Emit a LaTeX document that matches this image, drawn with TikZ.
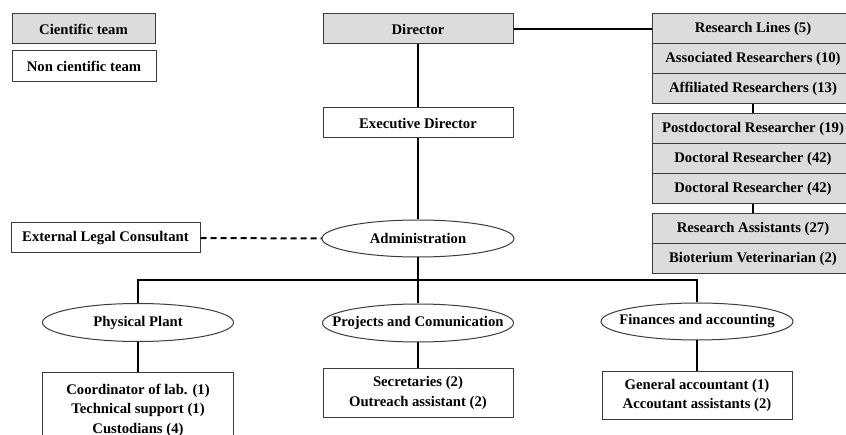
\documentclass[tikz,border=0pt]{standalone}
\usepackage{fontspec}
\setmainfont{Liberation Serif}
\usetikzlibrary{shapes.geometric}
\definecolor{boxgray}{RGB}{220,220,220}
\definecolor{edgegray}{RGB}{60,60,60}
\tikzset{
  every node/.style={font=\fontsize{14.7}{19.5}\selectfont\bfseries},
  sbox/.style={draw=edgegray, line width=1pt, fill=boxgray, rectangle, inner sep=0pt, align=center},
  nbox/.style={draw=edgegray, line width=1pt, fill=white, rectangle, inner sep=0pt, align=center},
  oval/.style={draw=edgegray, line width=1pt, fill=white, ellipse, inner sep=0pt},
  conn/.style={line width=2pt, black},
  dconn/.style={line width=2pt, black, dash pattern=on 6pt off 4pt}
}
\begin{document}
\begin{tikzpicture}[x=1pt,y=-1pt]
\clip (0,0) rectangle (846,435);
\fill[white] (0,0) rectangle (846,435);
% legend
\node[sbox, minimum width=143pt, minimum height=30pt] (leg1) at (83.5,29) {Cientific team};
\node[nbox, minimum width=144pt, minimum height=31pt] (leg2) at (84,66.5) {Non cientific team};
% top
\node[sbox, minimum width=190pt, minimum height=30pt] (dir) at (418,29) {Director};
\node[nbox, minimum width=190pt, minimum height=30pt] (exec) at (418,123) {Executive Director};
% right stack
\node[sbox, minimum width=202pt, minimum height=30pt] (rl) at (753,29) {Research Lines (5)};
\node[sbox, minimum width=202pt, minimum height=30pt] (ar) at (753,59) {Associated Researchers (10)};
\node[sbox, minimum width=202pt, minimum height=30pt] (afr) at (753,89) {Affiliated Researchers (13)};
\node[sbox, minimum width=202pt, minimum height=30pt] (pd) at (753,129) {Postdoctoral Researcher (19)};
\node[sbox, minimum width=202pt, minimum height=30pt] (dr1) at (753,159) {Doctoral Researcher (42)};
\node[sbox, minimum width=202pt, minimum height=30pt] (dr2) at (753,189) {Doctoral Researcher (42)};
\node[sbox, minimum width=202pt, minimum height=30pt] (ra) at (753,229) {Research Assistants (27)};
\node[sbox, minimum width=202pt, minimum height=30pt] (bv) at (753,259) {Bioterium Veterinarian (2)};
% administration
\node[oval, minimum width=192pt, minimum height=37pt] (adm) at (418,238.5) {\makebox[0pt]{Administration}};
\node[nbox, minimum width=189pt, minimum height=30pt] (elc) at (105.5,238) {External Legal Consultant};
% departments
\node[oval, minimum width=191pt, minimum height=38pt] (pp) at (138,322.5) {\makebox[0pt]{Physical Plant}};
\node[oval, minimum width=191pt, minimum height=38pt] (pc) at (418,323) {\makebox[0pt]{Projects and Comunication}};
\node[oval, minimum width=192pt, minimum height=37pt] (fa) at (697,321.5) {\makebox[0pt]{Finances and accounting}};
% staff boxes
\node[nbox, minimum width=191pt, minimum height=74pt] (b1) at (138,410) {Coordinator of lab. (1)\\Technical support (1)\\Custodians (4)};
\node[nbox, minimum width=190pt, minimum height=48pt] (b2) at (418,393) {Secretaries (2)\\Outreach assistant (2)};
\node[nbox, minimum width=190pt, minimum height=47pt] (b3) at (697,395.5) {General accountant (1)\\Accoutant assistants (2)};
% connectors
\coordinate (bar) at (418,280);
\draw[conn] (dir.south) -- (exec.north);
\draw[conn] (exec.south) -- (adm.north);
\draw[conn] (dir.east) -- (rl.west);
\draw[conn] (afr.south) -- (pd.north);
\draw[conn] (dr2.south) -- (ra.north);
\draw[dconn] (elc.east) -- (adm.west);
\draw[conn] (adm.south) -- (bar) -- (pc.north);
\draw[conn] (pp.north) -- (pp.north |- bar) -- (fa.north |- bar) -- (fa.north);
\draw[conn] (pp.south) -- (b1.north);
\draw[conn] (pc.south) -- (b2.north);
\draw[conn] (fa.south) -- (b3.north);
\end{tikzpicture}
\end{document}
